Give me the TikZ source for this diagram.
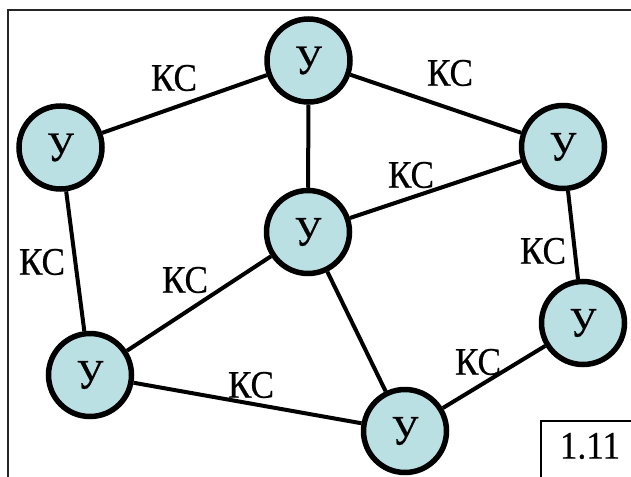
\documentclass[tikz,border=0pt]{standalone}
\usepackage{fontspec}
\setmainfont{Liberation Serif}[FakeStretch=0.9,FakeBold=0.5]
\definecolor{nodefill}{RGB}{186,224,227}
\begin{document}
\begin{tikzpicture}[x=1pt,y=-1pt,
  unode/.style={circle,draw=black,line width=5.5pt,fill=nodefill,minimum size=83pt,inner sep=0pt,
    font=\fontsize{42}{42}\selectfont},
  link/.style={line width=4pt,black},
  lbl/.style={inner sep=0pt,font=\fontsize{39}{39}\selectfont},
  frame/.style={line width=2.5pt,draw=black!85}]
\useasboundingbox (0,0) rectangle (631,476);
\draw[frame] (8,10) rectangle (645,490);
% nodes
\node[unode] (top) at (308.5,60.5) {У};
\node[unode] (lft) at (60.5,147.5) {У};
\node[unode] (rgt) at (563,147) {У};
\node[unode] (mid) at (308,232) {У};
\node[unode] (bl) at (90,375) {У};
\node[unode] (rl) at (583,323) {У};
\node[unode] (bot) at (405,431) {У};
% links
\draw[link] (lft) -- (top);
\draw[link] (top) -- (rgt);
\draw[link] (top) -- (mid);
\draw[link] (mid) -- (rgt);
\draw[link] (lft) -- (bl);
\draw[link] (mid) -- (bl);
\draw[link] (mid) -- (bot);
\draw[link] (rgt) -- (rl);
\draw[link] (bl) -- (bot);
\draw[link] (bot) -- (rl);
% labels
\node[lbl] (l1) at (174,78) {КС};
\node[lbl] (l2) at (450,73) {КС};
\node[lbl] (l3) at (411,175) {КС};
\node[lbl] (l4) at (42,262) {КС};
\node[lbl] (l5) at (185,280) {КС};
\node[lbl] (l6) at (543,251) {КС};
\node[lbl] (l7) at (251,385) {КС};
\node[lbl] (l8) at (478,362) {КС};
% figure number box
\draw[line width=2.5pt] (541,421) rectangle (660,500);
\node[inner sep=0pt,font=\fontsize{39}{39}\selectfont] (num) at (590,446) {1.11};
\end{tikzpicture}
\end{document}
